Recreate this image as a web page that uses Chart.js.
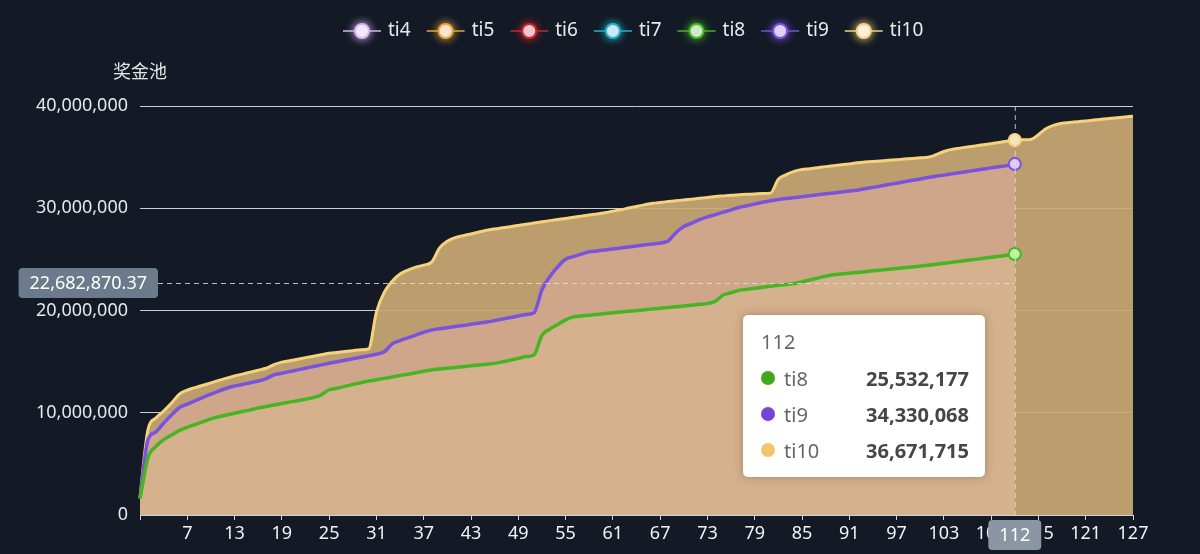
<!DOCTYPE html>
<html>
<head>
<meta charset="utf-8">
<script src="https://cdn.jsdelivr.net/npm/chart.js@4.4.1/dist/chart.umd.min.js"></script>
<style>
html,body{margin:0;padding:0;background:#131a26;}
#wrap{position:relative;width:1200px;height:554px;overflow:hidden;}
#tip{position:absolute;left:743px;top:315px;width:242px;height:162px;box-sizing:border-box;background:#ffffff;border-radius:5px;box-shadow:0 0 10px rgba(0,0,0,0.25);font-family:"Noto Sans","Noto Sans CJK SC",sans-serif;padding:9px 16px 0 18px;display:none;}
#tip .tt-title{height:36px;line-height:36px;font-size:20px;color:#666;}
#tip .tt-row{height:36px;display:flex;align-items:center;font-size:20px;}
#tip .dot{width:14px;height:14px;border-radius:50%;display:inline-block;margin-right:9px;}
#tip .nm{color:#666;}
#tip .val{margin-left:auto;font-weight:bold;color:#464646;}
</style>
</head>
<body>
<div id="wrap">
<canvas id="c" width="1200" height="554"></canvas>
<div id="tip"></div>
</div>
<script>
// ---- data ----
const categories = [1,2,3,4,5,6,7,8,9,10,11,12,13,14,15,16,17,18,19,20,21,22,23,24,25,26,27,28,29,30,
31,32,33,34,35,36,37,38,39,40,41,42,43,44,45,46,47,48,49,50,51,52,53,54,55,56,57,58,59,60,
61,62,63,64,65,66,67,68,69,70,71,72,73,74,75,76,77,78,79,80,81,82,83,84,85,86,87,88,89,90,
91,92,93,94,95,96,97,98,99,100,101,102,103,104,105,106,107,108,109,110,111,112,113,114,115,116,117,118,119,120,
121,122,123,124,125,126,127];

const seriesNames = ['ti4','ti5','ti6','ti7','ti8','ti9','ti10'];

const ti4 = [];
const ti5 = [];
const ti6 = [];
const ti7 = [];

const ti8 = [1600000,5600000,6690000,7370000,7820000,8270000,8570000,8850000,9130000,9400000,
9610000,9780000,9950000,10120000,10280000,10460000,10620000,10750000,10900000,11040000,
11180000,11330000,11480000,11750000,12250000,12390000,12580000,12760000,12940000,13100000,
13230000,13360000,13500000,13640000,13770000,13910000,14050000,14190000,14270000,14350000,
14430000,14510000,14590000,14670000,14750000,14830000,14980000,15150000,15320000,15490000,
15660000,17560000,18180000,18640000,19090000,19380000,19460000,19540000,19620000,19700000,
19780000,19850000,19920000,20000000,20070000,20150000,20220000,20290000,20370000,20450000,
20520000,20600000,20670000,20900000,21510000,21740000,21970000,22070000,22170000,22270000,
22360000,22460000,22550000,22640000,22800000,22980000,23170000,23350000,23490000,23570000,
23650000,23720000,23800000,23880000,23960000,24040000,24110000,24180000,24260000,24340000,
24420000,24520000,24610000,24710000,24810000,24910000,25000000,25100000,25200000,25300000,
25400000,25532177];

const ti9 = [1600000,7330000,8110000,8990000,9780000,10510000,10850000,11180000,11510000,11830000,
12120000,12400000,12610000,12770000,12930000,13100000,13340000,13700000,13860000,14030000,
14190000,14350000,14520000,14680000,14840000,14990000,15130000,15280000,15420000,15570000,
15720000,15960000,16740000,17060000,17330000,17600000,17870000,18100000,18210000,18320000,
18430000,18530000,18650000,18760000,18870000,19010000,19160000,19320000,19460000,19610000,
19770000,22030000,23310000,24260000,25010000,25270000,25520000,25740000,25830000,25920000,
26020000,26120000,26220000,26310000,26410000,26510000,26600000,26790000,27610000,28210000,
28540000,28880000,29160000,29380000,29620000,29840000,30080000,30240000,30410000,30580000,
30730000,30850000,30950000,31040000,31130000,31220000,31310000,31410000,31500000,31590000,
31680000,31770000,31910000,32040000,32180000,32320000,32450000,32590000,32730000,32860000,
33000000,33130000,33240000,33360000,33480000,33600000,33710000,33830000,33950000,34050000,
34170000,34330068];

const ti10 = [1760000,8310000,9480000,10170000,10950000,11830000,12220000,12460000,12690000,12920000,
13160000,13390000,13600000,13780000,13970000,14160000,14350000,14710000,14950000,15090000,
15240000,15390000,15530000,15670000,15820000,15900000,15990000,16070000,16150000,16230000,
19840000,21800000,22870000,23560000,23950000,24240000,24440000,24730000,26100000,26780000,
27130000,27310000,27490000,27670000,27850000,27980000,28090000,28200000,28320000,28440000,
28550000,28670000,28790000,28900000,29000000,29120000,29230000,29340000,29440000,29560000,
29720000,29860000,30020000,30180000,30330000,30480000,30570000,30650000,30730000,30810000,
30890000,30970000,31060000,31140000,31210000,31280000,31320000,31360000,31400000,31440000,
31480000,32840000,33290000,33610000,33780000,33870000,33970000,34070000,34160000,34250000,
34340000,34440000,34520000,34580000,34630000,34690000,34750000,34810000,34870000,34930000,
34980000,35230000,35550000,35760000,35880000,35990000,36100000,36210000,36320000,36430000,
36550000,36671715,36700000,36720000,37200000,37800000,38120000,38320000,38390000,38470000,
38540000,38620000,38700000,38780000,38860000,38930000,39000000];

const yTicks = [0, 10000000, 20000000, 30000000, 40000000];
const yAxisName = '奖金池';
const hoverIndex = 111;             // category "112"
const pointerYValue = 22682870.37;  // axis pointer value on y
const pointerYText = '22,682,870.37';

// ---- styles ----
const seriesData = [ti4, ti5, ti6, ti7, ti8, ti9, ti10];
const lineColors = ['#d9b5f2','#e8a83a','#c9252c','#27b3cc','#46b524','#7a52de','#f6d27a'];
const fillColors = ['rgba(0,0,0,0)','rgba(0,0,0,0)','rgba(0,0,0,0)','rgba(0,0,0,0)','#d5b18d','#cfa68a','rgba(203,169,116,0.92)'];
const pointFills = ['#fff','#fff','#fff','#fff','#b8f59c','#dccbf9','#f8e5b6'];
const dotColors = ['#d9b5f2','#e8a83a','#c9252c','#27b3cc','#3fa81c','#7445d8','#f2c46c'];
const FONT = '"Noto Sans","Noto Sans CJK SC",sans-serif';

const bgPlugin = {
  id: 'bg',
  beforeDraw(chart) {
    const ctx = chart.ctx;
    ctx.save();
    ctx.fillStyle = '#131a26';
    ctx.fillRect(0, 0, chart.width, chart.height);
    ctx.restore();
  }
};

const legendPlugin = {
  id: 'echartsLegend',
  afterDraw(chart) {
    const ctx = chart.ctx;
    ctx.save();
    ctx.font = '19px ' + FONT;
    ctx.textBaseline = 'middle';
    let x = 343;
    const y = 31;
    chart.data.datasets.forEach((ds, k) => {
      const c = lineColors[k];
      ctx.globalAlpha = 0.75;
      ctx.strokeStyle = c;
      ctx.lineWidth = 2;
      ctx.beginPath(); ctx.moveTo(x, y); ctx.lineTo(x + 38, y); ctx.stroke();
      ctx.globalAlpha = 1;
      ctx.shadowColor = c; ctx.shadowBlur = 8;
      ctx.beginPath(); ctx.arc(x + 19, y, 7, 0, Math.PI * 2);
      ctx.fillStyle = '#fbf7ff'; ctx.fill();
      ctx.lineWidth = 2; ctx.strokeStyle = c; ctx.stroke();
      ctx.shadowBlur = 0;
      ctx.fillStyle = '#e9e9e9';
      ctx.textAlign = 'left';
      ctx.fillText(ds.label, x + 45, y);
      x += 45 + ctx.measureText(ds.label).width + 16;
    });
    ctx.font = '18px ' + FONT;
    ctx.textAlign = 'center';
    ctx.fillStyle = '#e3e3e3';
    ctx.fillText(yAxisName, chart.chartArea.left, 73);
    ctx.restore();
  }
};

const pointerPlugin = {
  id: 'axisPointer',
  afterDatasetsDraw(chart) {
    const ctx = chart.ctx;
    const xs = chart.scales.x, ys = chart.scales.y, a = chart.chartArea;
    const x = xs.getPixelForValue(hoverIndex);
    const y = ys.getPixelForValue(pointerYValue);
    ctx.save();
    ctx.setLineDash([5, 4]);
    ctx.lineWidth = 1;
    ctx.strokeStyle = 'rgba(225,225,225,0.8)';
    ctx.beginPath(); ctx.moveTo(x + 0.5, a.top); ctx.lineTo(x + 0.5, a.bottom); ctx.stroke();
    ctx.beginPath(); ctx.moveTo(a.left, Math.round(y) + 0.5); ctx.lineTo(x, Math.round(y) + 0.5); ctx.stroke();
    ctx.setLineDash([]);
    // y label
    ctx.font = '18px ' + FONT;
    ctx.textBaseline = 'middle';
    ctx.textAlign = 'center';
    const tw = ctx.measureText(pointerYText).width;
    const bw = tw + 22, bh = 30;
    const bx = a.left + 18 - bw;
    ctx.fillStyle = '#6c7b8b';
    ctx.beginPath(); ctx.roundRect(bx, y - bh / 2, bw, bh, 4); ctx.fill();
    ctx.fillStyle = '#ffffff';
    ctx.fillText(pointerYText, bx + bw / 2, y + 1);
    // x label
    const xt = String(categories[hoverIndex]);
    const xw = ctx.measureText(xt).width + 22;
    ctx.fillStyle = '#8a96a3';
    ctx.beginPath(); ctx.roundRect(x - xw / 2, a.bottom + 5, xw, 30, 4); ctx.fill();
    ctx.fillStyle = '#ffffff';
    ctx.fillText(xt, x, a.bottom + 21);
    ctx.restore();
  }
};

const datasets = seriesNames.map((name, k) => ({
  label: name,
  data: seriesData[k],
  borderColor: lineColors[k],
  backgroundColor: fillColors[k],
  fill: seriesData[k].length ? 'origin' : false,
  borderWidth: k === 6 ? 3 : 3.5,
  pointRadius: (ctx) => ctx.dataIndex === hoverIndex ? 6 : 0,
  pointHoverRadius: 6,
  pointBackgroundColor: pointFills[k],
  pointBorderColor: lineColors[k],
  pointBorderWidth: 2,
  cubicInterpolationMode: 'monotone'
}));

const chart = new Chart(document.getElementById('c'), {
  type: 'line',
  data: { labels: categories, datasets },
  plugins: [bgPlugin, legendPlugin, pointerPlugin],
  options: {
    responsive: false,
    animation: false,
    devicePixelRatio: 1,
    events: [],
    layout: { padding: { top: 106, right: 67, bottom: 0, left: 0 } },
    plugins: {
      legend: { display: false },
      title: { display: false },
      filler: { propagate: false },
      tooltip: {
        enabled: false,
        mode: 'index',
        external(context) {
          const tooltip = context.tooltip;
          const el = document.getElementById('tip');
          if (!tooltip.dataPoints || !tooltip.dataPoints.length) { el.style.display = 'none'; return; }
          let html = '<div class="tt-title">' + tooltip.title[0] + '</div>';
          tooltip.dataPoints.forEach(dp => {
            html += '<div class="tt-row"><span class="dot" style="background:' + dotColors[dp.datasetIndex] + '"></span>' +
              '<span class="nm">' + dp.dataset.label + '</span>' +
              '<span class="val">' + Number(dp.raw).toLocaleString('en-US') + '</span></div>';
          });
          el.innerHTML = html;
          el.style.display = 'block';
        }
      }
    },
    scales: {
      x: {
        type: 'category',
        offset: false,
        afterFit(scale) { scale.height = 39; },
        grid: {
          drawOnChartArea: false,
          drawTicks: true,
          tickLength: 5,
          tickColor: (ctx) => (ctx.index % 6 === 0) ? '#cfd3d8' : 'rgba(0,0,0,0)'
        },
        border: { display: true, color: '#cfd3d8', width: 1 },
        ticks: {
          autoSkip: false,
          maxRotation: 0,
          minRotation: 0,
          padding: 3,
          color: '#f2f2f2',
          font: { size: 18, family: FONT },
          callback(value, index) {
            if (index % 6 !== 0 || index === 0) return '';
            return String(categories[index]);
          }
        }
      },
      y: {
        min: 0,
        max: 40000000,
        afterFit(scale) { scale.width = 140; },
        afterBuildTicks(scale) { scale.ticks = yTicks.map(v => ({ value: v })); },
        grid: { color: '#c9ced5', lineWidth: 1, drawTicks: false },
        border: { display: false },
        ticks: {
          padding: 12,
          color: '#e6e6e6',
          font: { size: 18, family: FONT },
          callback: (v) => Number(v).toLocaleString('en-US')
        }
      }
    }
  }
});

chart.tooltip.setActiveElements(
  [4, 5, 6].map(d => ({ datasetIndex: d, index: hoverIndex })),
  { x: chart.scales.x.getPixelForValue(hoverIndex), y: chart.scales.y.getPixelForValue(pointerYValue) }
);
chart.draw();
</script>
</body>
</html>
